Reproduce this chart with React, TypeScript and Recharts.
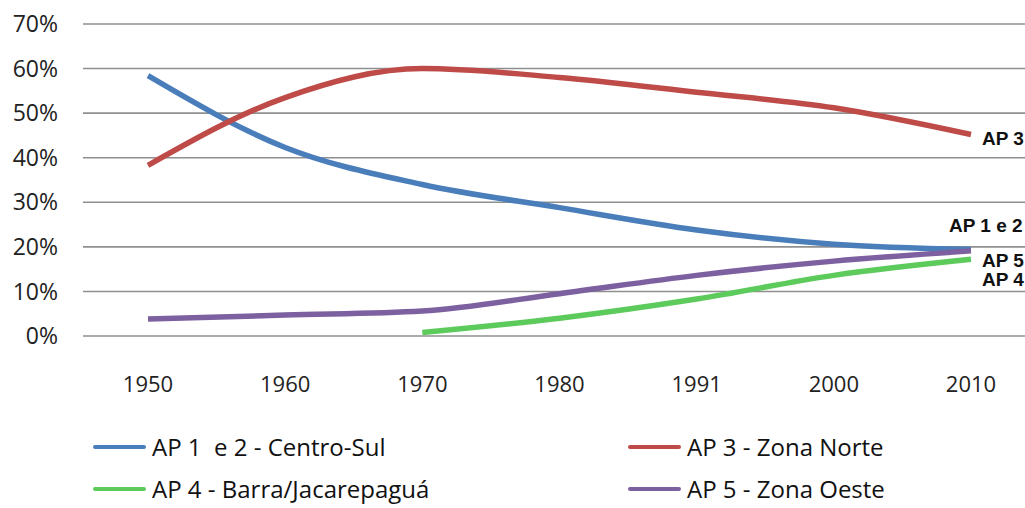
import { CartesianGrid, Line, LineChart, XAxis, YAxis } from "recharts";

const years = ["1950", "1960", "1970", "1980", "1991", "2000", "2010"];
const centroSul = [58.4, 42.3, 34.0, 28.8, 23.8, 20.6, 19.4];
const zonaNorte = [38.3, 53.5, 60.0, 58.0, 54.7, 51.2, 45.2];
const barra = [null, null, 0.8, 4.0, 8.3, 13.6, 17.2];
const zonaOeste = [3.8, 4.7, 5.6, 9.5, 13.6, 16.8, 19.1];
const yTicks = [0, 10, 20, 30, 40, 50, 60, 70];

const series = [
  { key: "centroSul", name: "AP 1  e 2 - Centro-Sul", tag: "AP 1 e 2", color: "#4a7ebb", dx: -22, dy: -18 },
  { key: "zonaNorte", name: "AP 3 - Zona Norte", tag: "AP 3", color: "#be4b48", dx: 11, dy: 10 },
  { key: "barra", name: "AP 4 - Barra/Jacarepaguá", tag: "AP 4", color: "#5ccb5c", dx: 11, dy: 27 },
  { key: "zonaOeste", name: "AP 5 - Zona Oeste", tag: "AP 5", color: "#7d60a0", dx: 11, dy: 16 },
];

const data = years.map((year, i) => ({
  year,
  centroSul: centroSul[i],
  zonaNorte: zonaNorte[i],
  barra: barra[i],
  zonaOeste: zonaOeste[i],
}));

const legendRows = [
  [series[0], series[1]],
  [series[2], series[3]],
];

function endLabel(tag: string, dx: number, dy: number) {
  return (props: any) => {
    if (props.index !== years.length - 1) return null;
    return (
      <text
        x={props.x + dx}
        y={props.y + dy}
        fontFamily="Liberation Sans, Arial, sans-serif"
        fontWeight="bold"
        fontSize={19}
        fill="#111"
      >
        {tag}
      </text>
    );
  };
}

export default function App() {
  return (
    <div
      style={{
        position: "absolute",
        left: 0,
        top: 0,
        width: 1025,
        height: 508,
        overflow: "hidden",
        background: "#fff",
        fontFamily: "'Open Sans', sans-serif",
      }}
    >
      <LineChart
        width={1130}
        height={508}
        data={data}
        margin={{ top: 24, right: 0, left: 0, bottom: 112 }}
      >
        <CartesianGrid vertical={false} stroke="#8f8f8f" strokeWidth={1.6} />
        <XAxis
          dataKey="year"
          axisLine={false}
          tickLine={false}
          tickSize={0}
          tickMargin={40}
          height={60}
          padding={{ left: 65, right: 159 }}
          tick={{ fontSize: 22, fill: "#222", fontFamily: "'Open Sans', sans-serif" }}
        />
        <YAxis
          domain={[0, 70]}
          ticks={yTicks}
          width={83}
          axisLine={false}
          tickLine={false}
          tickSize={0}
          tickMargin={25}
          tickFormatter={(v: number) => `${v}%`}
          tick={{ fontSize: 23, fill: "#222", fontFamily: "'Open Sans', sans-serif" }}
        />
        {series.map((s) => (
          <Line
            key={s.key}
            type="monotone"
            dataKey={s.key}
            name={s.name}
            stroke={s.color}
            strokeWidth={5.5}
            dot={false}
            activeDot={false}
            isAnimationActive={false}
            label={endLabel(s.tag, s.dx, s.dy)}
          />
        ))}
      </LineChart>

      {legendRows.map((row, r) =>
        row.map((s, c) => (
          <div
            key={s.key}
            style={{
              position: "absolute",
              left: c === 0 ? 93 : 628,
              top: r === 0 ? 434 : 476,
              height: 26,
              lineHeight: "26px",
              display: "flex",
              alignItems: "center",
              fontSize: 24,
              color: "#111",
              whiteSpace: "pre",
            }}
          >
            <span
              style={{
                display: "inline-block",
                width: 53,
                height: 4,
                background: s.color,
                marginRight: 6,
                borderRadius: 2,
              }}
            />
            {s.name}
          </div>
        ))
      )}
    </div>
  );
}
